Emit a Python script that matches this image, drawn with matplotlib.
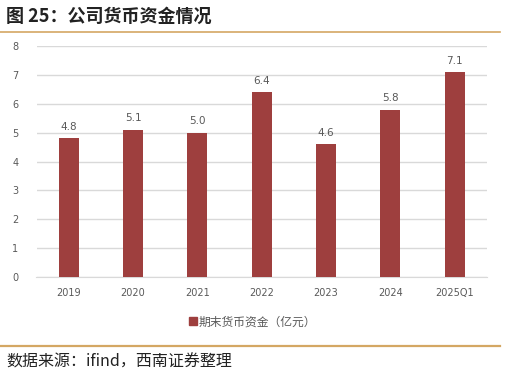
import matplotlib
matplotlib.use("Agg")
import matplotlib.pyplot as plt
from matplotlib.lines import Line2D

plt.rcParams['font.family'] = ['Noto Sans CJK SC', 'DejaVu Sans']

categories = ["2019", "2020", "2021", "2022", "2023", "2024", "2025Q1"]
values = [4.8, 5.1, 5.0, 6.4, 4.6, 5.8, 7.1]
value_labels = ["4.8", "5.1", "5.0", "6.4", "4.6", "5.8", "7.1"]
series_name = "期末货币资金（亿元）"
title = "图 25：公司货币资金情况"
source = "数据来源：ifind，西南证券整理"

W, H = 507, 377
fig = plt.figure(figsize=(W / 100, H / 100), dpi=100)
bar_color = "#9E3F3E"
tick_color = "#595959"

ax = fig.add_axes([36.5 / W, 1 - 277 / H, (487 - 36.5) / W, (277 - 46) / H])
x = list(range(len(categories)))
bars = ax.bar(x, values, width=0.31, color=bar_color, zorder=3)
for xi, v, lab in zip(x, values, value_labels):
    ax.text(xi, v + 0.22, lab, ha="center", va="bottom", fontsize=7.5, color=tick_color,
            family=["DejaVu Sans"])

ax.set_xlim(-0.5, len(categories) - 0.5)
ax.set_ylim(0, 8)
ax.set_yticks(range(0, 9))
ax.set_xticks(x)
ax.set_xticklabels(categories)
ax.yaxis.grid(True, color="#D9D9D9", linewidth=1, zorder=0)
for s in ["top", "right", "left"]:
    ax.spines[s].set_visible(False)
ax.spines["bottom"].set_color("#D9D9D9")
ax.tick_params(axis="both", length=0, labelsize=7, colors=tick_color)
ax.tick_params(axis="y", pad=13)
ax.tick_params(axis="x", pad=8)
for lab in ax.get_yticklabels() + ax.get_xticklabels():
    lab.set_family(["DejaVu Sans"])

handle = Line2D([0], [0], marker="s", color="none", markerfacecolor=bar_color,
                markeredgecolor=bar_color, markersize=5.5)
fig.legend([handle], [series_name], loc="center", bbox_to_anchor=(252 / W, 1 - 322 / H),
           frameon=False, fontsize=8.5, handletextpad=0.1, handlelength=0.8,
           labelcolor=tick_color)

fig.text(6 / W, 1 - 16 / H, title, fontsize=13, fontweight="bold", color="#222222",
         va="center", ha="left")
fig.add_artist(Line2D([0, 500 / W], [1 - 31.5 / H, 1 - 31.5 / H], color="#D4A763",
                      linewidth=1.2, transform=fig.transFigure))
fig.add_artist(Line2D([0, 500 / W], [1 - 345.5 / H, 1 - 345.5 / H], color="#D4A763",
                      linewidth=1.6, transform=fig.transFigure))
fig.text(6 / W, 1 - 362 / H, source, fontsize=11.5, style="italic", color="#222222",
         va="center", ha="left")

fig.savefig("out.png", dpi=100)
